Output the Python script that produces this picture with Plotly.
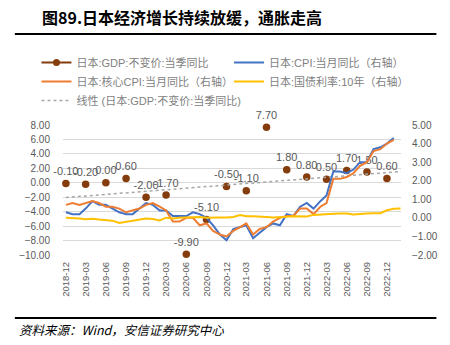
import numpy as np
import pandas as pd
import plotly.graph_objects as go

# ---------------- data ----------------
gdp_dates = ["2018-12", "2019-03", "2019-06", "2019-09", "2019-12", "2020-03", "2020-06",
             "2020-09", "2020-12", "2021-03", "2021-06", "2021-09", "2021-12", "2022-03",
             "2022-06", "2022-09", "2022-12"]
gdp_yoy = [-0.1, -0.2, 0.0, 0.6, -2.0, -1.7, -9.9, -5.1, -0.5, -1.1, 7.7, 1.8, 0.8, 0.5, 1.7, 1.5, 0.6]

cpi_start = "2018-12"
cpi_yoy = [0.3,
           0.2, 0.2, 0.5, 0.9, 0.7, 0.7, 0.5, 0.3, 0.2, 0.2, 0.5, 0.8,
           0.7, 0.4, 0.4, 0.1, 0.1, 0.1, 0.3, 0.2, 0.0, -0.4, -0.9, -1.2,
           -0.6, -0.5, -0.4, -1.1, -0.8, -0.5, -0.3, -0.4, 0.2, 0.1, 0.6, 0.8,
           0.5, 0.9, 1.2, 2.5, 2.5, 2.4, 2.6, 3.0, 3.0, 3.7, 3.8, 4.0,
           4.3]
core_cpi_yoy = [0.7,
                0.8, 0.7, 0.8, 0.9, 0.8, 0.6, 0.6, 0.5, 0.3, 0.4, 0.5, 0.7,
                0.8, 0.6, 0.4, -0.2, -0.2, 0.0, 0.0, -0.4, -0.3, -0.7, -0.9, -1.0,
                -0.7, -0.5, -0.3, -0.9, -0.6, -0.5, -0.2, 0.0, 0.1, 0.1, 0.5, 0.5,
                0.2, 0.6, 0.8, 2.1, 2.1, 2.2, 2.4, 2.8, 3.0, 3.6, 3.7, 4.0,
                4.2]
jgb10y = [0.00,
          0.00, -0.03, -0.08, -0.05, -0.09, -0.14, -0.15, -0.27, -0.20, -0.14, -0.08, -0.03,
          -0.06, -0.14, 0.01, -0.03, 0.00, 0.02, 0.02, 0.04, 0.01, 0.03, 0.02, 0.02,
          0.05, 0.15, 0.09, 0.09, 0.08, 0.05, 0.02, 0.02, 0.06, 0.09, 0.07, 0.07,
          0.16, 0.19, 0.21, 0.22, 0.23, 0.23, 0.18, 0.22, 0.24, 0.25, 0.25, 0.41,
          0.49, 0.50]

tick_labels = gdp_dates

names = ["日本:GDP:不变价:当季同比", "日本:CPI:当月同比（右轴）", "日本:核心CPI:当月同比（右轴）",
         "日本:国债利率:10年（右轴）", "线性 (日本:GDP:不变价:当季同比)"]

title_text = "图89.日本经济增长持续放缓，通胀走高"
source_text = "资料来源：Wind，安信证券研究中心"

# ---------------- derived ----------------
gdp_x = pd.to_datetime(gdp_dates)
cpi_x = pd.date_range(cpi_start, periods=len(cpi_yoy), freq="MS")
yld_x = pd.date_range(cpi_start, periods=len(jgb10y), freq="MS")

x_range = ["2018-11-18", "2023-02-03"]

# linear trend of GDP (like Excel trendline)
t_days = (gdp_x - gdp_x[0]).days.values.astype(float)
slope, intercept = np.polyfit(t_days, np.array(gdp_yoy), 1)
trend_x = pd.to_datetime([gdp_x[0], pd.Timestamp(x_range[1])])
trend_t = (trend_x - gdp_x[0]).days.values.astype(float)
trend_y = slope * trend_t + intercept

# ---------------- layout geometry ----------------
W, H = 450, 345
L, R, T, B = 63, 43, 125, 90
PW, PH = W - L - R, H - T - B


def px(x):
    return (x - L) / PW


def py(y):
    return (H - B - y) / PH


FONT = "Liberation Sans, Noto Sans CJK SC, sans-serif"
CJK = "Noto Sans CJK SC, sans-serif"
GRAY = "#595959"

fig = go.Figure()

# GDP markers
fig.add_trace(go.Scatter(
    x=gdp_x, y=gdp_yoy, mode="markers+text", name=names[0],
    marker=dict(color="#843c0c", size=7.5),
    text=[f"{v:.2f}" for v in gdp_yoy], textposition="top center",
    textfont=dict(size=11, color=GRAY, family=FONT),
    cliponaxis=False, showlegend=False, yaxis="y"))
# legend entry for GDP (line + marker look)
fig.add_trace(go.Scatter(
    x=[None], y=[None], mode="lines+markers", name=names[0],
    line=dict(color="#843c0c", width=2), marker=dict(color="#843c0c", size=7),
    legend="legend", legendrank=1))

fig.add_trace(go.Scatter(
    x=cpi_x, y=cpi_yoy, mode="lines", name=names[1],
    line=dict(color="#4472c4", width=2), yaxis="y2", legend="legend2", legendrank=1))
fig.add_trace(go.Scatter(
    x=cpi_x, y=core_cpi_yoy, mode="lines", name=names[2],
    line=dict(color="#ed7d31", width=2), yaxis="y2", legend="legend", legendrank=2))
fig.add_trace(go.Scatter(
    x=yld_x, y=jgb10y, mode="lines", name=names[3],
    line=dict(color="#ffc000", width=2), yaxis="y2", legend="legend2", legendrank=2))
fig.add_trace(go.Scatter(
    x=trend_x, y=trend_y, mode="lines", name=names[4],
    line=dict(color="#a6a6a6", width=1.5, dash="dot"), yaxis="y",
    legend="legend", legendrank=3))

legend_common = dict(
    orientation="v", xanchor="left", yanchor="top",
    font=dict(size=11, color="#7f7f7f", family=FONT),
    itemwidth=30, bgcolor="rgba(0,0,0,0)", traceorder="normal",
    tracegroupgap=0)

fig.update_layout(
    width=W, height=H,
    margin=dict(l=L, r=R, t=T, b=B, pad=0),
    paper_bgcolor="white", plot_bgcolor="white",
    font=dict(family=FONT, size=10, color=GRAY),
    xaxis=dict(
        type="date", range=x_range,
        tickvals=pd.to_datetime(tick_labels), ticktext=tick_labels,
        tickangle=-90, tickfont=dict(size=9.5, color=GRAY),
        showgrid=False, zeroline=False, showline=False, ticks="",
        ticklabelstandoff=4),
    yaxis=dict(
        range=[-10, 8], dtick=2, tick0=0, tickformat=".2f",
        showgrid=True, gridcolor="#d9d9d9", gridwidth=1,
        zeroline=False, showline=False, ticks="",
        tickfont=dict(size=10, color=GRAY), ticklabelstandoff=12),
    yaxis2=dict(
        range=[-2, 5], dtick=1, tick0=0, tickformat=".2f",
        overlaying="y", side="right", showgrid=False,
        zeroline=False, showline=False, ticks="",
        tickfont=dict(size=10, color=GRAY), ticklabelstandoff=10),
    legend=dict(x=px(36), y=py(48), **legend_common),
    legend2=dict(x=px(232), y=py(48), **legend_common),
    showlegend=True,
)

fig.add_annotation(
    x=px(40), y=py(17), xref="paper", yref="paper", xanchor="left", yanchor="middle",
    text=f"<b>{title_text}</b>", showarrow=False,
    font=dict(size=16, color="black", family=CJK))
fig.add_annotation(
    x=px(16), y=py(329), xref="paper", yref="paper", xanchor="left", yanchor="middle",
    text=source_text, showarrow=False,
    font=dict(size=12.5, color="black", family=CJK, style="italic"))

for yy in (34, 318):
    fig.add_shape(type="line", xref="paper", yref="paper",
                  x0=px(14), x1=px(443), y0=py(yy), y1=py(yy),
                  line=dict(color="black", width=2))

fig.write_html("out.html")
